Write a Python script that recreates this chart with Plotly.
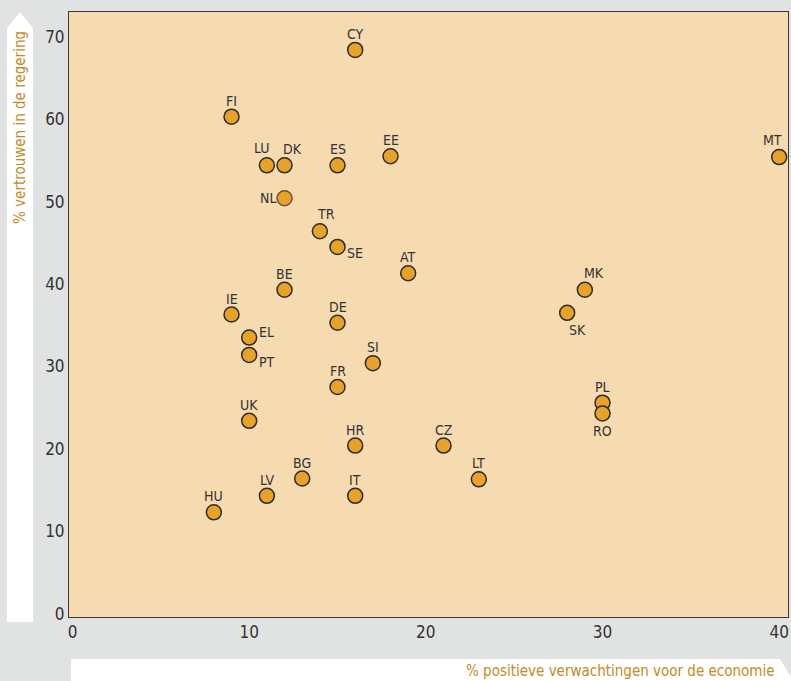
import plotly.graph_objects as go

countries = ["CY", "FI", "LU", "DK", "ES", "EE", "MT", "NL", "TR", "SE", "AT",
             "BE", "MK", "IE", "SK", "DE", "EL", "PT", "SI", "FR", "PL", "RO",
             "UK", "HR", "CZ", "LT", "BG", "LV", "IT", "HU"]
economy = [16, 9, 11, 12, 15, 18, 40, 12, 14, 15, 19,
           12, 29, 9, 28, 15, 10, 10, 17, 15, 30, 30,
           10, 16, 21, 23, 13, 11, 16, 8]
government = [68.4, 60.3, 54.4, 54.4, 54.4, 55.5, 55.4, 50.4, 46.4, 44.5, 41.3,
              39.3, 39.3, 36.3, 36.5, 35.3, 33.5, 31.4, 30.4, 27.5, 25.6, 24.3,
              23.4, 20.4, 20.4, 16.3, 16.4, 14.3, 14.3, 12.3]
x_ticks = [0, 10, 20, 30, 40]
y_ticks = [0, 10, 20, 30, 40, 50, 60, 70]

# label placement (style): (xshift px, yshift px, xanchor, yanchor)
label_pos = {
    "LU": (-5, 7, "center", "bottom"),
    "DK": (8, 6, "center", "bottom"),
    "NL": (-7, 0, "right", "middle"),
    "TR": (6, 7, "center", "bottom"),
    "SE": (7, -6, "left", "middle"),
    "EL": (8, 6, "left", "middle"),
    "PT": (8, -7, "left", "middle"),
    "MK": (9, 7, "center", "bottom"),
    "SK": (10, -7, "center", "top"),
    "RO": (0, -8, "center", "top"),
    "MT": (-7, 7, "center", "bottom"),
}

W, H = 791, 681
L, R, T, B = 69, 3, 12, 64
PW, PH = W - L - R, H - T - B

def px(x):
    return (x - L) / PW

def py(y):
    return (H - B - y) / PH

FONT = "DejaVu Sans Condensed, Liberation Sans Narrow, sans-serif"
ORANGE_TXT = "#c48a1e"

outline = ["#6e4a4a" if c == "NL" else "#2b2b2b" for c in countries]

fig = go.Figure()
fig.add_trace(go.Scatter(
    x=economy, y=government, mode="markers",
    marker=dict(size=15, color="#e8a228", line=dict(color=outline, width=1.5)),
    hoverinfo="text", text=countries, showlegend=False,
))

annotations = []
for c, xv, yv in zip(countries, economy, government):
    xs, ys, xa, ya = label_pos.get(c, (0, 6, "center", "bottom"))
    annotations.append(dict(
        x=xv, y=yv, xref="x", yref="y", text=c, showarrow=False,
        xshift=xs, yshift=ys, xanchor=xa, yanchor=ya,
        font=dict(family=FONT, size=14, color="#333333"),
    ))

# axis titles
annotations.append(dict(
    x=px(20), y=py(128), xref="paper", yref="paper",
    text="% vertrouwen in de regering", textangle=-90, showarrow=False,
    xanchor="center", yanchor="middle",
    font=dict(family=FONT, size=15, color=ORANGE_TXT),
))
annotations.append(dict(
    x=px(777), y=py(671), xref="paper", yref="paper",
    text="% positieve verwachtingen voor de economie", showarrow=False,
    xanchor="right", yanchor="middle",
    font=dict(family=FONT, size=15, color=ORANGE_TXT),
))

def poly(points):
    return "M " + " L ".join(f"{px(a):.5f},{py(b):.5f}" for a, b in points) + " Z"

shapes = [
    dict(type="path", xref="paper", yref="paper", layer="below",
         path=poly([(7, 622), (7, 28), (20, 12), (33, 28), (33, 622)]),
         fillcolor="white", line=dict(width=0)),
    dict(type="path", xref="paper", yref="paper", layer="below",
         path=poly([(71, 659), (780, 659), (805, 700), (71, 700)]),
         fillcolor="white", line=dict(width=0)),
]

fig.update_layout(
    width=W, height=H,
    margin=dict(l=L, r=R, t=T, b=B, pad=0),
    paper_bgcolor="#e1e2e2",
    plot_bgcolor="#f6dbb0",
    annotations=annotations,
    shapes=shapes,
    font=dict(family=FONT, color="#333333"),
)
fig.update_xaxes(
    range=[-0.2, 40.5], tickvals=x_ticks, showgrid=False, zeroline=False,
    showline=True, mirror=True, linecolor="#3a3a3a", linewidth=1,
    ticks="", tickfont=dict(family=FONT, size=17, color="#333333"),
)
fig.update_yaxes(
    range=[-0.4, 73.0], tickvals=y_ticks, showgrid=False, zeroline=False,
    showline=True, mirror=True, linecolor="#3a3a3a", linewidth=1,
    ticks="", tickfont=dict(family=FONT, size=17, color="#333333"),
)

fig.write_html(
    "out.html",
    config={"displayModeBar": False},
    post_script="document.body.style.margin='0';document.body.style.overflow='hidden';",
)
